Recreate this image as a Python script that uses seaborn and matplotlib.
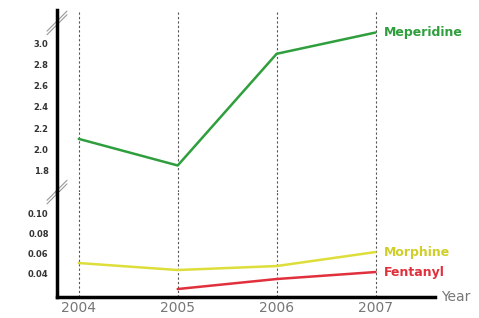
import numpy as np
import matplotlib
matplotlib.use("Agg")
import matplotlib.pyplot as plt
import pandas as pd
import seaborn as sns

sns.set_style("white")
plt.rcParams['font.family'] = ['DejaVu Sans']

years = [2004, 2005, 2006, 2007]
meperidine = [2.10, 1.85, 2.90, 3.10]
morphine = [0.050, 0.043, 0.047, 0.061]
fentanyl_years = [2005, 2006, 2007]
fentanyl = [0.024, 0.034, 0.041]

upper_ticks = [1.8, 2.0, 2.2, 2.4, 2.6, 2.8, 3.0]
lower_ticks = [0.04, 0.06, 0.08, 0.10]

green = "#2f9e3c"
yellow = "#dede3a"
red = "#e0303c"

df_up = pd.DataFrame({"Year": years, "val": meperidine})
df_morph = pd.DataFrame({"Year": years, "val": morphine})
df_fent = pd.DataFrame({"Year": fentanyl_years, "val": fentanyl})

fig = plt.figure(figsize=(4.79, 3.18), dpi=100)
ax_up = fig.add_axes([0.119, 0.396, 0.789, 0.572])
ax_lo = fig.add_axes([0.119, 0.066, 0.789, 0.330])

xlim = (2003.78, 2007.6)

for ax in (ax_up, ax_lo):
    ax.set_xlim(*xlim)
    for y in years:
        ax.axvline(y, color="#555555", ls=(0, (2, 2)), lw=0.8, zorder=1)
    for s in ("top", "right"):
        ax.spines[s].set_visible(False)
    ax.spines["left"].set_linewidth(2.5)
    ax.spines["left"].set_color("black")
    ax.tick_params(axis="both", length=0, pad=6)

sns.lineplot(data=df_up, x="Year", y="val", ax=ax_up, color=green, lw=1.8, zorder=3)
sns.lineplot(data=df_morph, x="Year", y="val", ax=ax_lo, color=yellow, lw=1.8, zorder=3)
sns.lineplot(data=df_fent, x="Year", y="val", ax=ax_lo, color=red, lw=1.8, zorder=3)

ax_up.set_ylim(1.60, 3.31)
ax_up.set_yticks(upper_ticks)
ax_up.set_yticklabels([f"{t:.1f}" for t in upper_ticks], fontsize=6, fontweight="bold", color="#333333")
ax_up.spines["bottom"].set_visible(False)
ax_up.set_xticks([])
ax_up.set_xlabel("")
ax_up.set_ylabel("")

ax_lo.set_ylim(0.016, 0.121)
ax_lo.set_yticks(lower_ticks)
ax_lo.set_yticklabels([f"{t:.2f}" for t in lower_ticks], fontsize=6, fontweight="bold", color="#333333")
ax_lo.spines["bottom"].set_linewidth(2.5)
ax_lo.spines["bottom"].set_color("black")
ax_lo.set_xticks(years)
ax_lo.set_xticklabels([str(y) for y in years], fontsize=10, color="#777777")
ax_lo.tick_params(axis="x", pad=3)
ax_lo.set_xlabel("")
ax_lo.set_ylabel("")

# series labels at last point
ax_up.annotate("Meperidine", (years[-1], meperidine[-1]), xytext=(6, 0), textcoords="offset points",
               color=green, fontsize=9, fontweight="bold", va="center")
ax_lo.annotate("Morphine", (years[-1], morphine[-1]), xytext=(6, 0), textcoords="offset points",
               color="#cfcf28", fontsize=9, fontweight="bold", va="center")
ax_lo.annotate("Fentanyl", (fentanyl_years[-1], fentanyl[-1]), xytext=(6, 0), textcoords="offset points",
               color=red, fontsize=9, fontweight="bold", va="center")

fig.text(0.92, 0.066, "Year", fontsize=10, color="#777777", va="center", ha="left")

# break marks on the y axis (// style)
def brk(ax, yfrac, hpx):
    dx = 10 / 378
    dy = 10 / hpx
    for off in (-1.8 / hpx, 1.8 / hpx):
        ax.plot([-dx, dx], [yfrac - dy + off, yfrac + dy + off], transform=ax.transAxes,
                color="#999999", lw=0.8, clip_on=False)

brk(ax_up, 0.93, 182)
brk(ax_up, 0.0, 182)

fig.savefig("out.png", dpi=100)
